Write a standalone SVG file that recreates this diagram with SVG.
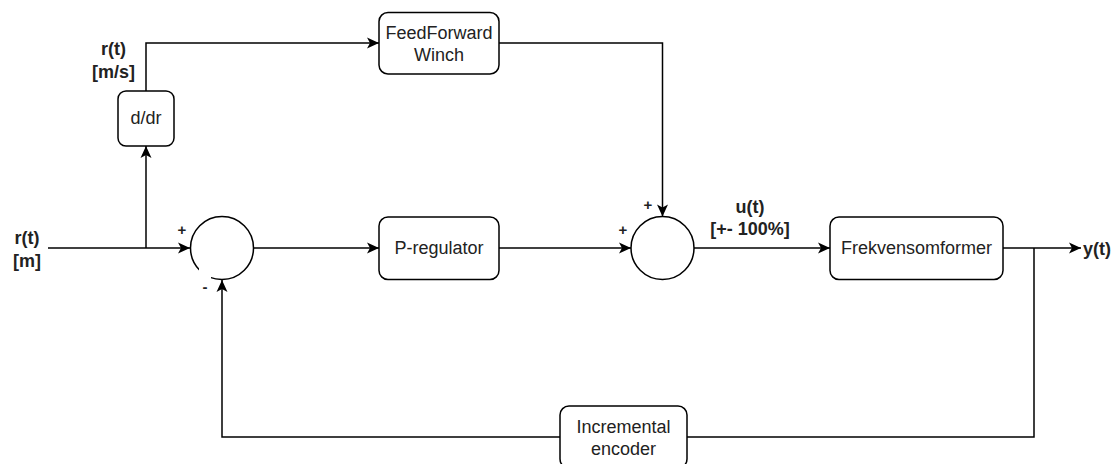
<svg xmlns="http://www.w3.org/2000/svg" width="1113" height="464" viewBox="0 0 1113 464">
<style>
.box{fill:#fff;stroke:#000;stroke-width:1.5}
.lbl{font-family:"Liberation Sans",Arial,sans-serif;font-size:18px;fill:#222;text-anchor:middle}
.b{font-weight:bold}
.sg{font-family:"Liberation Sans",Arial,sans-serif;font-size:15px;font-weight:bold;fill:#222;text-anchor:middle}
.c{fill:none;stroke:#000;stroke-width:1.5}
</style>
<defs>
<marker id="arr" markerUnits="userSpaceOnUse" markerWidth="14" markerHeight="14" viewBox="-1 -7 14 14" refX="12" refY="0" orient="auto">
<path d="M0,-5.5 L12,0 L0,5.5 L3,0 Z" fill="#000"/>
</marker>
</defs>
<rect width="1113" height="464" fill="#fff"/>
<g id="connectors">
<path class="c" d="M48,248 H190" marker-end="url(#arr)"/>
<path class="c" d="M146,248 V146" marker-end="url(#arr)"/>
<path class="c" d="M146,91 V43 H379" marker-end="url(#arr)"/>
<path class="c" d="M499,43 H662.5 V216.5" marker-end="url(#arr)"/>
<path class="c" d="M253.5,248 H379" marker-end="url(#arr)"/>
<path class="c" d="M499,248 H631" marker-end="url(#arr)"/>
<path class="c" d="M694,248 H830" marker-end="url(#arr)"/>
<path class="c" d="M1003,248 H1081" marker-end="url(#arr)"/>
<path class="c" d="M1034,248 V437 H687"/>
<path class="c" d="M560,437 H222 V280" marker-end="url(#arr)"/>
</g>
<g id="sum1">
<circle cx="222" cy="248" r="31.5" class="box"/>
<rect x="199" y="268" width="12" height="30" fill="#fff"/>
<text class="sg" x="182" y="234.5">+</text>
<text class="sg" x="205" y="292">-</text>
</g>
<g id="sum2">
<circle cx="662.5" cy="248" r="31.5" class="box"/>
<text class="sg" x="648" y="209.5">+</text>
<text class="sg" x="623" y="234.5">+</text>
</g>
<g id="ddr">
<rect x="118" y="91" width="56" height="55" rx="8" class="box"/>
<text class="lbl" x="146" y="124">d/dr</text>
</g>
<g id="feedforward">
<rect x="379" y="12.5" width="120" height="61.5" rx="9" class="box"/>
<text class="lbl" x="439" y="38.5">FeedForward</text>
<text class="lbl" x="439" y="60.5">Winch</text>
</g>
<g id="preg">
<rect x="379" y="217" width="120" height="62.5" rx="9" class="box"/>
<text class="lbl" x="439" y="254">P-regulator</text>
</g>
<g id="frek">
<rect x="830" y="217" width="173" height="62.5" rx="9" class="box"/>
<text class="lbl" x="916.5" y="254">Frekvensomformer</text>
</g>
<g id="encoder">
<rect x="560" y="406" width="127" height="62" rx="9" class="box"/>
<text class="lbl" x="623.5" y="433">Incremental</text>
<text class="lbl" x="623.5" y="455">encoder</text>
</g>
<g id="labels">
<text class="lbl b" x="113.5" y="55">r(t)</text>
<text class="lbl b" x="113.5" y="77.5">[m/s]</text>
<text class="lbl b" x="27" y="243.5">r(t)</text>
<text class="lbl b" x="27" y="266.5">[m]</text>
<text class="lbl b" x="750" y="212.5">u(t)</text>
<text class="lbl b" x="750" y="235">[+- 100%]</text>
<text class="lbl b" x="1083" y="255" style="text-anchor:start">y(t)</text>
</g>
</svg>
